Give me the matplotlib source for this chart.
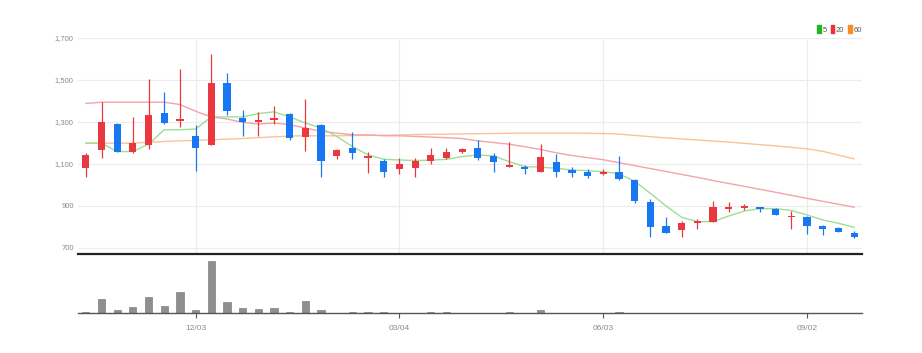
import matplotlib
matplotlib.use("Agg")
import matplotlib.pyplot as plt
from matplotlib.patches import Patch
import numpy as np

plt.rcParams['font.family'] = ['Liberation Sans Narrow', 'Liberation Sans', 'DejaVu Sans']

# weekly candles, 50 weeks
opens = [1082, 1167, 1290, 1158, 1191, 1343, 1305, 1234, 1191, 1484,
         1319, 1300, 1308, 1340, 1226, 1287, 1138, 1178, 1126, 1114,
         1074, 1081, 1114, 1127, 1158, 1175, 1140, 1087, 1086, 1063,
         1111, 1071, 1060, 1052, 1063, 1024, 921, 802, 783, 817,
         824, 884, 889, 897, 887, 845, 845, 802, 797, 773]
highs = [1154, 1394, 1295, 1324, 1503, 1444, 1551, 1284, 1626, 1535,
         1359, 1346, 1378, 1343, 1410, 1290, 1170, 1252, 1156, 1122,
         1126, 1127, 1175, 1178, 1178, 1212, 1151, 1204, 1095, 1194,
         1146, 1087, 1074, 1076, 1140, 1026, 932, 849, 830, 837,
         925, 917, 910, 897, 890, 876, 852, 810, 798, 781]
lows = [1039, 1130, 1155, 1151, 1172, 1290, 1276, 1066, 1189, 1334,
        1234, 1234, 1292, 1212, 1162, 1036, 1124, 1122, 1055, 1039,
        1052, 1039, 1098, 1122, 1151, 1119, 1063, 1084, 1052, 1063,
        1036, 1036, 1031, 1049, 1023, 916, 754, 770, 754, 789,
        821, 871, 881, 873, 856, 789, 765, 762, 776, 746]
closes = [1143, 1298, 1158, 1199, 1332, 1294, 1314, 1174, 1487, 1350,
          1300, 1310, 1319, 1223, 1271, 1114, 1167, 1154, 1137, 1063,
          1098, 1114, 1142, 1156, 1170, 1127, 1108, 1097, 1074, 1132,
          1060, 1057, 1042, 1063, 1028, 924, 798, 770, 817, 827,
          894, 894, 898, 887, 859, 851, 805, 789, 778, 754]
volume = [5, 42, 10, 18, 49, 23, 64, 11, 155, 33,
          15, 14, 15, 5, 38, 9, 2, 5, 4, 4,
          2, 1, 4, 4, 2, 2, 2, 4, 2, 9,
          2, 2, 2, 1, 5, 2, 2, 0.5, 0.5, 0.5,
          2, 0.5, 0.5, 0.5, 0.5, 2, 1, 0.5, 0.5, 0.5]

# moving average lines as drawn
ma5 = [1199, 1199, 1159, 1159, 1194, 1263, 1263, 1266, 1324, 1324,
       1324, 1340, 1348, 1324, 1295, 1271, 1231, 1183, 1143, 1122,
       1119, 1116, 1118, 1122, 1135, 1143, 1138, 1111, 1087, 1085,
       1079, 1071, 1068, 1063, 1053, 1018, 960, 900, 846, 825,
       825, 852, 876, 887, 887, 878, 857, 833, 817, 798]
ma20 = [1388, 1394, 1394, 1394, 1394, 1394, 1383, 1351, 1324, 1314,
        1298, 1290, 1295, 1287, 1271, 1255, 1247, 1239, 1238, 1234,
        1234, 1231, 1228, 1225, 1221, 1210, 1202, 1194, 1182, 1169,
        1153, 1140, 1130, 1120, 1106, 1092, 1078, 1064, 1050, 1036,
        1021, 1007, 993, 979, 965, 950, 936, 922, 908, 894]
ma60 = [1199, 1199, 1199, 1199, 1203, 1207, 1210, 1212, 1215, 1218,
        1221, 1225, 1229, 1233, 1234, 1234, 1234, 1235, 1236, 1237,
        1238, 1240, 1241, 1242, 1243, 1244, 1245, 1246, 1247, 1247,
        1247, 1247, 1246, 1245, 1242, 1236, 1230, 1224, 1219, 1214,
        1209, 1204, 1198, 1192, 1186, 1179, 1172, 1160, 1142, 1124]

tick_pos = [7, 20, 33, 46]
tick_labels = ['12/03', '03/04', '06/03', '09/02']
price_ticks = [700, 900, 1100, 1300, 1500, 1700]

UP = '#e9383f'
DOWN = '#1877f2'

fig = plt.figure(figsize=(9.22, 3.53), dpi=100)
ax = fig.add_axes([0.0846, 0.2805, 0.8503, 0.6119])
axv = fig.add_axes([0.0846, 0.1119, 0.8503, 0.1643], sharex=ax)

x = np.arange(len(opens))
o = np.array(opens)
c = np.array(closes)
colors = [UP if cc >= oo else DOWN for oo, cc in zip(o, c)]

# moving averages behind candles
ax.plot(x, ma60, color='#f9c396', lw=1.0, zorder=2)
ax.plot(x, ma20, color='#f4a3a9', lw=1.0, zorder=2)
ax.plot(x, ma5, color='#9ede96', lw=1.0, zorder=2)

# candles
ax.vlines(x, lows, highs, colors=colors, lw=0.9, zorder=3)
body_bot = np.minimum(o, c)
body_h = np.maximum(np.abs(c - o), 5)
ax.bar(x, body_h, bottom=body_bot, width=0.46, color=colors, zorder=4)

ax.set_xlim(-0.5, 49.5)
ax.set_ylim(671, 1700)
ax.set_yticks(price_ticks)
ax.set_yticklabels([f"{v:,}" for v in price_ticks])
ax.set_xticks(tick_pos)
ax.tick_params(axis='x', length=0, labelbottom=False)
ax.tick_params(axis='y', length=0, pad=3, labelsize=5.5, labelcolor='#8a8a8a')
ax.grid(True, color='#ececec', lw=0.8, zorder=0)
ax.set_axisbelow(True)
for s in ['top', 'right', 'left']:
    ax.spines[s].set_visible(False)
ax.spines['bottom'].set_color('#222222')
ax.spines['bottom'].set_linewidth(1.6)

# legend
handles = [Patch(color='#22b422', label='5'),
           Patch(color='#ee2f3a', label='20'),
           Patch(color='#f98a26', label='60')]
leg = ax.legend(handles=handles, ncol=3, loc='lower right', bbox_to_anchor=(1.0, 1.02),
                frameon=False, fontsize=5.5, handlelength=0.45, handleheight=1.1,
                handletextpad=0.25, columnspacing=0.5, borderpad=0, borderaxespad=0)
for t in leg.get_texts():
    t.set_color('#555555')

# volume panel
axv.bar(x, volume, width=0.46, color='#8f8f8f', edgecolor='#6f6f6f', lw=0.4)
axv.set_ylim(0, 172)
axv.set_yticks([])
axv.set_xticks(tick_pos)
axv.set_xticklabels(tick_labels)
axv.tick_params(axis='x', length=3.5, width=0.8, color='#555555', pad=5,
                labelsize=6, labelcolor='#8a8a8a')
for s in ['top', 'right', 'left']:
    axv.spines[s].set_visible(False)
axv.spines['bottom'].set_color('#555555')
axv.spines['bottom'].set_linewidth(1.0)

fig.savefig('out.png', dpi=100, facecolor='white')
